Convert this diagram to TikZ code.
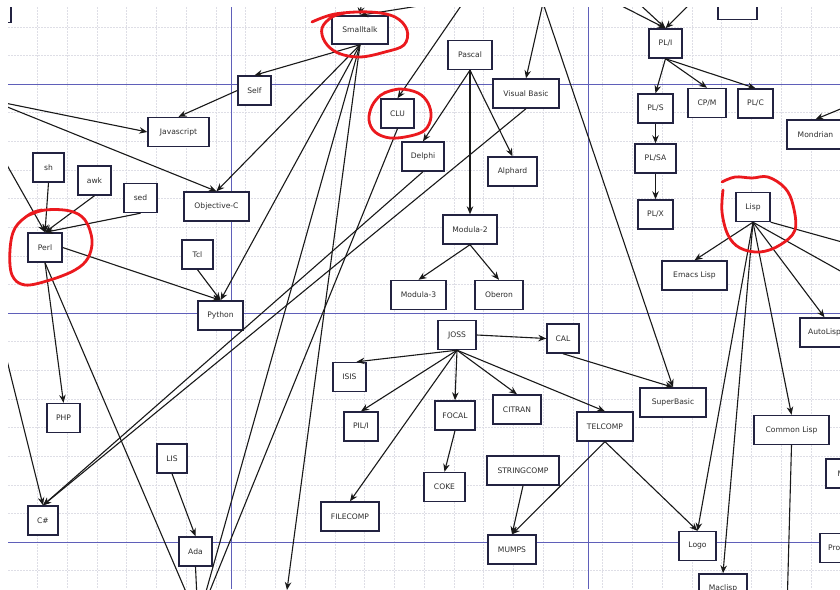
\documentclass[tikz,border=0pt]{standalone}
\usepackage{fontspec}
\setmainfont{DejaVu Sans}
\usetikzlibrary{arrows.meta}
\definecolor{boxline}{RGB}{35,35,65}
\definecolor{txt}{RGB}{45,45,45}
\definecolor{major}{RGB}{95,95,185}
\definecolor{minorc}{RGB}{222,222,230}
\definecolor{redpen}{RGB}{235,25,30}
\begin{document}
\begin{tikzpicture}[x=1pt,y=-1pt,
  lang/.style={draw=boxline, line width=1.4pt, fill=white, minimum height=29pt, inner sep=0pt, font=\fontsize{7.6}{8}\selectfont, text=txt},
  edge/.style={draw=black!90, line width=1.1pt, -{Stealth[length=8pt,width=6.5pt]}},
  circ/.style={draw=redpen, line width=2.8pt, line cap=round, line join=round},
  minorline/.style={draw=minorc, line width=0.5pt, dash pattern=on 1.5pt off 1.5pt},
  majorline/.style={draw=major, line width=0.9pt}
]
\useasboundingbox (0,0) rectangle (840,589);
\fill[white] (0,0) rectangle (840,589);
\begin{scope}
\clip (8,7) rectangle (840,589);
% grid
\foreach \i in {0,...,28} { \draw[minorline] ({7.7+29.75*\i},7) -- ({7.7+29.75*\i},589); }
\foreach \j in {-11,...,-9,-7,-6,-5,-4,-3,-2,-1,1,2,3,4,5,6,7,9,10} { \draw[minorline] (8,{313+28.625*\j}) -- (840,{313+28.625*\j}); }
\foreach \xx in {231,588} { \draw[majorline] (\xx,7) -- (\xx,589); }
\foreach \yy in {84.5,313.5,542.5} { \draw[majorline] (8,\yy) -- (840,\yy); }

% off-canvas coordinates
\coordinate (java) at (-10,100);
\coordinate (perlsrc) at (-10,135);
\coordinate (csrc) at (-10,292);
\coordinate (stsrc) at (450,1);
\coordinate (stsrcb) at (362,-2);
\coordinate (clusrc) at (465,0);
\coordinate (basic) at (543,3);
\coordinate (plsrca) at (610,0);
\coordinate (plsrcb) at (635,0);
\coordinate (plsrcc) at (694,0);
\coordinate (mondsrc) at (855,103);
\coordinate (lispr1) at (860,247);
\coordinate (lispr2) at (860,282);
\coordinate (ruby) at (198,620);
\coordinate (sttgt) at (287,590);
\coordinate (clbot) at (787,610);

% nodes
\node[lang, minimum width=42pt] (tlbox) at (-10,8) {};
\node[lang, minimum width=39pt] (topbox) at (737.5,5) {};
\node[lang, minimum width=56pt, minimum height=28pt] (smalltalk) at (360,30) {Smalltalk};
\node[lang, minimum width=33pt] (self) at (254.5,90.5) {Self};
\node[lang, minimum width=61pt] (javascript) at (178.5,132) {Javascript};
\node[lang, minimum width=31pt] (sh) at (48.5,167.5) {sh};
\node[lang, minimum width=33pt] (awk) at (94.5,180.5) {awk};
\node[lang, minimum width=33pt] (sed) at (140.5,198) {sed};
\node[lang, minimum width=65pt] (objc) at (216.5,206.5) {Objective-C};
\node[lang, minimum width=34pt] (perl) at (45,247.5) {Perl};
\node[lang, minimum width=31pt] (tcl) at (197.5,254.5) {Tcl};
\node[lang, minimum width=45pt] (python) at (220.5,315.5) {Python};
\node[lang, minimum width=44pt] (pascal) at (470,55) {Pascal};
\node[lang, minimum width=66pt] (vb) at (526,93.5) {Visual Basic};
\node[lang, minimum width=33pt] (clu) at (397.5,113.5) {CLU};
\node[lang, minimum width=42pt] (delphi) at (423,156.5) {Delphi};
\node[lang, minimum width=49pt] (alphard) at (512.5,171.5) {Alphard};
\node[lang, minimum width=54pt] (modula2) at (470,229.5) {Modula-2};
\node[lang, minimum width=55pt] (modula3) at (418.5,295) {Modula-3};
\node[lang, minimum width=48pt] (oberon) at (499,295) {Oberon};
\node[lang, minimum width=38pt] (joss) at (457,335) {JOSS};
\node[lang, minimum width=32pt] (cal) at (563,338.5) {CAL};
\node[lang, minimum width=33pt] (isis) at (349.5,377) {ISIS};
\node[lang, minimum width=34pt] (pili) at (361,426.5) {PIL/I};
\node[lang, minimum width=40pt] (focal) at (455,415.5) {FOCAL};
\node[lang, minimum width=48pt] (citran) at (517,409.5) {CITRAN};
\node[lang, minimum width=56pt] (telcomp) at (605,426.5) {TELCOMP};
\node[lang, minimum width=66pt] (superbasic) at (673,402.5) {SuperBasic};
\node[lang, minimum width=41pt] (coke) at (444.5,487) {COKE};
\node[lang, minimum width=72pt] (stringcomp) at (523,470.5) {STRINGCOMP};
\node[lang, minimum width=58pt] (filecomp) at (350,516.5) {FILECOMP};
\node[lang, minimum width=48pt] (mumps) at (512,549.5) {MUMPS};
\node[lang, minimum width=33pt] (pli) at (665.5,43.5) {PL/I};
\node[lang, minimum width=35pt] (pls) at (655.5,108.5) {PL/S};
\node[lang, minimum width=38pt] (cpm) at (707,103) {CP/M};
\node[lang, minimum width=35pt] (plc) at (755.5,103.5) {PL/C};
\node[lang, minimum width=41pt] (plsa) at (655.5,158.5) {PL/SA};
\node[lang, minimum width=35pt] (plx) at (655.5,214.5) {PL/X};
\node[lang, minimum width=57pt] (mondrian) at (815.5,134.5) {Mondrian};
\node[lang, minimum width=34pt] (lisp) at (753,207) {Lisp};
\node[lang, minimum width=65pt] (emacs) at (694.5,275.5) {Emacs Lisp};
\node[lang, minimum width=49pt] (autolisp) at (824.5,332.5) {AutoLisp};
\node[lang, minimum width=75pt] (commonlisp) at (791.5,430) {Common Lisp};
\node[lang, minimum width=37pt] (logo) at (697.5,546) {Logo};
\node[lang, minimum width=48pt] (maclisp) at (723,588.5) {Maclisp};
\node[lang, minimum width=34pt] (ml) at (843,473.5) {ML};
\node[lang, minimum width=40pt] (prolog) at (840,548) {Prolog};
\node[lang, minimum width=30pt] (csharp) at (43,520.5) {C\#};
\node[lang, minimum width=33pt] (php) at (63.5,418) {PHP};
\node[lang, minimum width=30pt] (lis) at (172,458.5) {LIS};
\node[lang, minimum width=33pt] (ada) at (195.5,551.5) {Ada};

% edges
\draw[edge] (stsrc) -- (smalltalk.north);
\draw[edge] (stsrcb) -- (smalltalk.north);
\draw[edge] (smalltalk.south) -- (self.north);
\draw[edge] (self.west) -- (javascript.north);
\draw[edge] (java) -- (javascript.west);
\draw[edge] (java) -- (objc.north);
\draw[edge] (smalltalk.south) -- (objc.north);
\draw[edge] (smalltalk.south) -- (python.north);
\draw[edge] (smalltalk.south) -- (ruby);
\draw[edge] (smalltalk.south) -- (sttgt);
\draw[edge] (clusrc) -- (clu.north);
\draw[edge] (clu.south) -- (ruby);
\draw[edge] (pascal.south) -- (delphi.north);
\draw[edge] (pascal.south) -- (alphard.north);
\draw[edge] (pascal.south) -- (modula2.north);
\draw[edge] (delphi.south) -- (csharp.north);
\draw[edge] (vb.south) -- (csharp.north);
\draw[edge] (csrc) -- (csharp.north);
\draw[edge] (basic) -- (vb.north);
\draw[edge] (basic) -- (superbasic.north);
\draw[edge] (cal.south) -- (superbasic.north);
\draw[edge] (joss.east) -- (cal.west);
\draw[edge] (joss.south) -- (isis.65);
\draw[edge] (joss.south) -- (pili.north);
\draw[edge] (joss.south) -- (filecomp.north);
\draw[edge] (joss.south) -- (focal.north);
\draw[edge] (joss.south) -- (citran.north);
\draw[edge] (joss.south) -- (telcomp.north);
\draw[edge] (focal.south) -- (coke.north);
\draw[edge] (telcomp.south) -- (mumps.north);
\draw[edge] (telcomp.south) -- (logo.north);
\draw[edge] (stringcomp.south) -- (mumps.north);
\draw[edge] (modula2.south) -- (modula3.north);
\draw[edge] (modula2.south) -- (oberon.north);
\draw[edge] (plsrca) -- (pli.north);
\draw[edge] (plsrcb) -- (pli.north);
\draw[edge] (plsrcc) -- (pli.north);
\draw[edge] (pli.south) -- (pls.north);
\draw[edge] (pli.south) -- (cpm.north);
\draw[edge] (pli.south) -- (plc.north);
\draw[edge] (pls.south) -- (plsa.north);
\draw[edge] (plsa.south) -- (plx.north);
\draw[edge] (mondsrc) -- (mondrian.north);
\draw[edge] (lisp.south) -- (emacs.north);
\draw[edge] (lisp.south) -- (autolisp.north);
\draw[edge] (lisp.south) -- (commonlisp.north);
\draw[edge] (lisp.south) -- (logo.north);
\draw[edge] (lisp.south) -- (maclisp.north);
\draw[edge] (lisp.south east) -- (lispr1);
\draw[edge] (lisp.south) -- (lispr2);
\draw[edge] (commonlisp.south) -- (clbot);
\draw[edge] (lis.south) -- (ada.north);
\draw[edge] (ada.south) -- (ruby);
\draw[edge] (sh.south) -- (perl.north);
\draw[edge] (awk.south) -- (perl.north);
\draw[edge] (sed.south) -- (perl.north);
\draw[edge] (perlsrc) -- (perl.north);
\draw[edge] (perl.east) -- (python.north);
\draw[edge] (perl.south) -- (php.north);
\draw[edge] (perl.south) -- (ruby);
\draw[edge] (tcl.south) -- (python.north);
\end{scope}

% red hand-drawn circles
\draw[circ] plot[smooth, tension=0.6] coordinates {(312,22) (335,14) (370,12) (395,17) (407,30) (404,45) (385,52) (360,57) (338,53) (325,42) (322,28) (332,17) (345,13)};
\draw[circ] plot[smooth, tension=0.6] coordinates {(384,93) (400,89) (418,93) (428,103) (431,117) (425,130) (410,136) (390,138) (375,132) (369,120) (372,106) (381,95) (393,90)};
\draw[circ] plot[smooth, tension=0.6] coordinates {(27,216) (45,210) (70,211) (85,220) (92,240) (88,258) (75,270) (50,280) (25,285) (12,275) (10,250) (15,228) (30,214) (42,210)};
\draw[circ] plot[smooth, tension=0.6] coordinates {(722,182) (735,177) (752,178) (768,177) (785,188) (793,205) (795,230) (780,245) (760,252) (740,248) (728,235) (722,212) (723,190)};
\end{tikzpicture}
\end{document}
